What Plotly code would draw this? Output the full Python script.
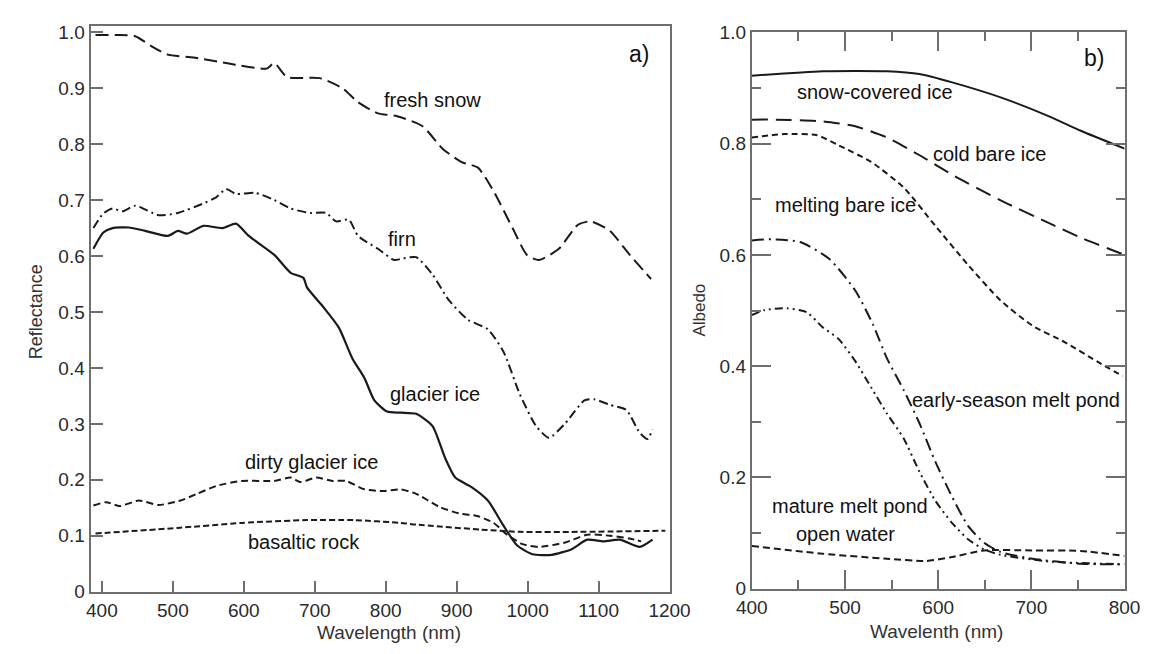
import plotly.graph_objects as go

# ---------------- Panel a) reflectance ----------------
snow_x = [391, 420, 447, 470, 493, 529, 575, 632, 643, 661, 707, 739, 761, 789, 816, 852, 880, 907, 930, 952, 980, 999, 1016, 1044, 1071, 1089, 1116, 1144, 1174]
snow_y = [0.995, 0.995, 0.993, 0.975, 0.960, 0.955, 0.945, 0.935, 0.945, 0.920, 0.918, 0.900, 0.875, 0.855, 0.850, 0.832, 0.792, 0.768, 0.758, 0.716, 0.647, 0.602, 0.593, 0.613, 0.656, 0.662, 0.645, 0.602, 0.559]

firn_x = [388, 402, 415, 429, 447, 480, 507, 543, 561, 575, 589, 616, 643, 666, 693, 716, 730, 748, 761, 789, 812, 825, 843, 866, 889, 916, 944, 966, 989, 1012, 1030, 1053, 1080, 1094, 1116, 1139, 1158, 1169, 1176]
firn_y = [0.650, 0.676, 0.685, 0.680, 0.690, 0.673, 0.677, 0.694, 0.705, 0.720, 0.711, 0.713, 0.700, 0.685, 0.677, 0.677, 0.662, 0.665, 0.636, 0.613, 0.593, 0.596, 0.598, 0.567, 0.521, 0.486, 0.469, 0.429, 0.353, 0.296, 0.275, 0.301, 0.342, 0.344, 0.334, 0.325, 0.284, 0.273, 0.290]

glacier_x = [388, 402, 415, 438, 461, 493, 507, 520, 543, 570, 589, 607, 643, 666, 684, 689, 712, 734, 753, 770, 784, 802, 821, 843, 866, 884, 898, 921, 944, 966, 985, 1007, 1034, 1062, 1084, 1107, 1130, 1158, 1176]
glacier_y = [0.613, 0.642, 0.650, 0.651, 0.645, 0.636, 0.645, 0.640, 0.654, 0.650, 0.658, 0.636, 0.602, 0.570, 0.561, 0.544, 0.509, 0.472, 0.417, 0.382, 0.342, 0.322, 0.320, 0.318, 0.296, 0.238, 0.204, 0.187, 0.163, 0.118, 0.083, 0.067, 0.066, 0.076, 0.093, 0.090, 0.093, 0.080, 0.093]

dirty_x = [388, 406, 425, 452, 480, 511, 534, 561, 597, 643, 666, 680, 702, 725, 744, 770, 798, 821, 843, 875, 903, 930, 952, 971, 993, 1016, 1053, 1084, 1116, 1144, 1160]
dirty_y = [0.154, 0.160, 0.153, 0.163, 0.155, 0.163, 0.175, 0.189, 0.198, 0.198, 0.204, 0.196, 0.204, 0.198, 0.198, 0.183, 0.180, 0.183, 0.175, 0.152, 0.140, 0.135, 0.123, 0.102, 0.085, 0.080, 0.088, 0.102, 0.100, 0.095, 0.090]

basalt_x = [391, 507, 597, 689, 755, 821, 843, 934, 989, 1071, 1194]
basalt_y = [0.104, 0.114, 0.123, 0.128, 0.128, 0.123, 0.120, 0.111, 0.107, 0.107, 0.109]

# ---------------- Panel b) albedo ----------------
sci_x = [400, 476, 545, 580, 615, 667, 719, 753, 800]
sci_y = [0.922, 0.930, 0.930, 0.925, 0.910, 0.883, 0.849, 0.823, 0.791]

cbi_x = [400, 426, 476, 511, 545, 580, 615, 667, 719, 753, 800]
cbi_y = [0.843, 0.843, 0.840, 0.831, 0.811, 0.779, 0.744, 0.698, 0.657, 0.631, 0.600]

mbi_x = [400, 435, 470, 493, 528, 563, 597, 632, 667, 701, 736, 771, 798]
mbi_y = [0.811, 0.817, 0.815, 0.797, 0.767, 0.721, 0.652, 0.582, 0.518, 0.473, 0.443, 0.408, 0.382]

esp_x = [400, 421, 452, 483, 511, 530, 545, 563, 580, 597, 615, 632, 649, 667, 701, 753, 800]
esp_y = [0.626, 0.628, 0.623, 0.593, 0.536, 0.475, 0.414, 0.357, 0.297, 0.228, 0.165, 0.113, 0.083, 0.066, 0.054, 0.045, 0.044]

mmp_x = [400, 414, 438, 459, 476, 493, 511, 528, 545, 563, 580, 597, 615, 632, 649, 667, 719, 800]
mmp_y = [0.492, 0.501, 0.504, 0.497, 0.470, 0.449, 0.409, 0.362, 0.315, 0.270, 0.210, 0.158, 0.118, 0.089, 0.071, 0.061, 0.049, 0.044]

ow_x = [400, 476, 545, 587, 615, 649, 701, 753, 800]
ow_y = [0.077, 0.063, 0.054, 0.050, 0.057, 0.069, 0.069, 0.068, 0.059]

left_yticks = [0, 0.1, 0.2, 0.3, 0.4, 0.5, 0.6, 0.7, 0.8, 0.9, 1.0]
left_yticktext = ["0", "0.1", "0.2", "0.3", "0.4", "0.5", "0.6", "0.7", "0.8", "0.9", "1.0"]
left_xticks = [400, 500, 600, 700, 800, 900, 1000, 1100, 1200]
right_yticks = [0, 0.2, 0.4, 0.6, 0.8, 1.0]
right_yticktext = ["0", "0.2", "0.4", "0.6", "0.8", "1.0"]
right_xticks = [400, 500, 600, 700, 800]

LC = "#1a1a1a"
AX = "#6e6e6e"
FONT = "Liberation Sans, Arial, sans-serif"

fig = go.Figure()

def add(x, y, dash, xa, ya, w=2):
    fig.add_trace(go.Scatter(x=x, y=y, mode="lines", xaxis=xa, yaxis=ya,
                             line=dict(color=LC, width=w, dash=dash, shape="spline", smoothing=0.6),
                             showlegend=False, hoverinfo="skip"))

add(snow_x, snow_y, "13px,6px", "x", "y")
add(firn_x, firn_y, "9px,4px,2px,4px", "x", "y")
add(glacier_x, glacier_y, "solid", "x", "y", 2.2)
add(dirty_x, dirty_y, "7px,4px", "x", "y")
add(basalt_x, basalt_y, "6px,3px", "x", "y")

add(sci_x, sci_y, "solid", "x2", "y2")
add(cbi_x, cbi_y, "16px,8px", "x2", "y2")
add(mbi_x, mbi_y, "6px,4px", "x2", "y2")
add(esp_x, esp_y, "12px,5px,2px,5px", "x2", "y2")
add(mmp_x, mmp_y, "8px,4px,2px,4px,2px,4px", "x2", "y2")
add(ow_x, ow_y, "7px,4px", "x2", "y2")

W, H = 1163, 654
tickfont = dict(family=FONT, size=19, color="#2a2a2a")

fig.update_layout(
    width=W, height=H, margin=dict(l=0, r=0, t=0, b=0),
    paper_bgcolor="white", plot_bgcolor="white",
    font=dict(family=FONT, color="#222"),
    xaxis=dict(domain=[77 / W, 675 / W], range=[384, 1200], tickvals=left_xticks,
               ticks="inside", ticklen=11, tickwidth=1.5, tickcolor=AX,
               showline=True, linecolor=AX, linewidth=2, mirror=True,
               showgrid=False, zeroline=False, tickfont=tickfont, anchor="y"),
    yaxis=dict(domain=[1 - 601 / H, 1 - 17 / H], range=[0, 1.0104], tickvals=left_yticks,
               ticktext=left_yticktext, ticks="inside", ticklen=12, tickwidth=1.5, tickcolor=AX,
               showline=True, linecolor=AX, linewidth=2, mirror=True,
               showgrid=False, zeroline=False, tickfont=tickfont, anchor="x"),
    xaxis2=dict(domain=[760 / W, 1145 / W], range=[400, 800], tickvals=right_xticks,
                ticks="inside", ticklen=19, tickwidth=1.5, tickcolor=AX,
                minor=dict(dtick=50, tick0=400, ticks="inside", ticklen=9, tickcolor=AX, tickwidth=1.5),
                showline=True, linecolor=AX, linewidth=2, mirror="ticks",
                showgrid=False, zeroline=False, tickfont=tickfont, anchor="y2"),
    yaxis2=dict(domain=[1 - 598 / H, 1 - 23 / H], range=[0, 1.0], tickvals=right_yticks,
                ticktext=right_yticktext, ticks="inside", ticklen=19, tickwidth=1.5, tickcolor=AX,
                minor=dict(dtick=0.1, tick0=0, ticks="inside", ticklen=9, tickcolor=AX, tickwidth=1.5),
                showline=True, linecolor=AX, linewidth=2, mirror="ticks",
                showgrid=False, zeroline=False, tickfont=tickfont, anchor="x2"),
)

annots = [
    ("fresh snow", 866, 0.879, "x", "y", 20),
    ("firn", 823, 0.630, "x", "y", 20),
    ("glacier ice", 869, 0.353, "x", "y", 20),
    ("dirty glacier ice", 695, 0.232, "x", "y", 20),
    ("basaltic rock", 685, 0.088, "x", "y", 20),
    ("a)", 1157, 0.962, "x", "y", 23),
    ("b)", 767, 0.953, "x2", "y2", 23),
    ("snow-covered ice", 532, 0.892, "x2", "y2", 20),
    ("cold bare ice", 655, 0.781, "x2", "y2", 20),
    ("melting bare ice", 500, 0.689, "x2", "y2", 20),
    ("early-season melt pond", 684, 0.339, "x2", "y2", 20),
    ("mature melt pond", 505, 0.148, "x2", "y2", 20),
    ("open water", 501, 0.099, "x2", "y2", 20),
]
for t, x, y, xr, yr, s in annots:
    fig.add_annotation(text=t, x=x, y=y, xref=xr, yref=yr, showarrow=False,
                       font=dict(family=FONT, size=s, color="#111"))

# axis titles
titles = [
    ("Reflectance", 21, 312, -90, 18),
    ("Wavelength (nm)", 385, 643, 0, 19),
    ("Albedo", 705, 310, -90, 17),
    ("Wavelenth (nm)", 951, 642, 0, 19),
]
for t, px, py, ang, s in titles:
    fig.add_annotation(text=t, x=px / W, y=1 - py / H, xref="paper", yref="paper",
                       showarrow=False, textangle=ang, xanchor="center", yanchor="middle",
                       font=dict(family=FONT, size=s, color="#333"))

fig.write_html("out.html")
